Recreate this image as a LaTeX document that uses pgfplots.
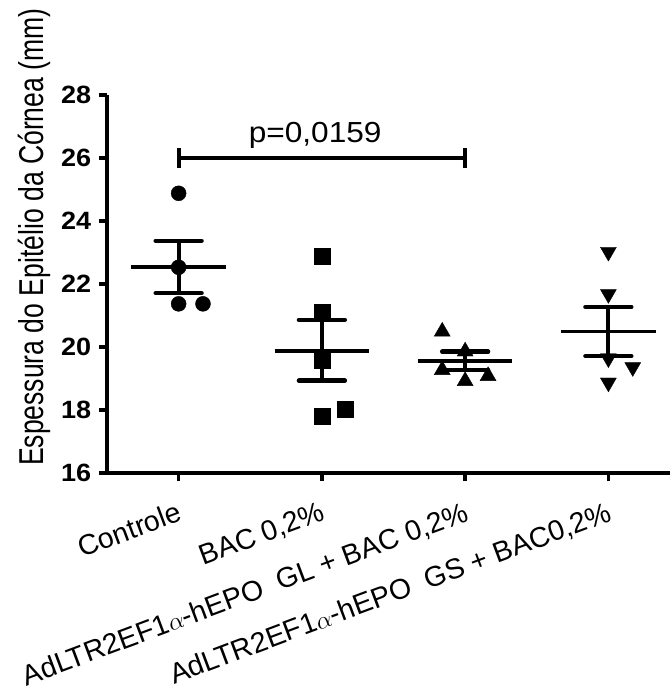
\documentclass[border=0pt]{standalone}
\usepackage{fontspec}
\setmainfont{Liberation Sans}
\usepackage{graphicx}
\usepackage{pgfplots}
\pgfplotsset{compat=1.18}
\usetikzlibrary{calc}

\begin{document}
\begin{tikzpicture}[font=\fontsize{26.5bp}{31bp}\selectfont]
\begin{axis}[
  name=ax,
  scale only axis,
  width=563bp, height=378bp,
  xmin=0.5, xmax=4.43,
  ymin=16, ymax=28,
  axis x line=bottom, axis y line=left,
  axis line style={line width=3.5bp, -},
  ytick={16,18,...,28},
  xtick={1,2,3,4},
  xticklabels={Controle, {BAC 0,2\%},
    {AdLTR2EF1$\alpha$-hEPO~ GL + BAC 0,2\%},
    {AdLTR2EF1$\alpha$-hEPO~ GS + BAC0,2\%}},
  x tick label style={font=\fontsize{28.5bp}{33bp}\selectfont,
    xshift=-1bp, yshift=-17bp, rotate=20.5,
    anchor=north east, inner sep=2bp},
  y tick label style={font=\fontsize{25bp}{30bp}\selectfont\bfseries,
    xshift=-5.5bp, xscale=1.08, inner sep=2bp,
    /pgf/number format/assume math mode=true},
  tick align=outside,
  major tick length=8bp,
  tick style={line width=3.5bp, black},
  ylabel={\scalebox{0.77}[1]{Espessura do Epitélio da Córnea (mm)}},
  ylabel style={font=\fontsize{34.5bp}{40bp}\selectfont,
    at={(ticklabel cs:0.624,8bp)}, anchor=south, inner sep=0pt},
  clip=false,
]
% individual values
\addplot[only marks, mark=*, mark size=7.5bp, black] coordinates {
  (1,24.88) (1,22.53) (1,21.37) (1.17,21.37)};
\addplot[only marks, mark=square*, mark size=8bp, black] coordinates {
  (2,22.89) (2,21.10) (2,19.59) (2,17.81) (2.16,18.02)};
\addplot[only marks, mark=triangle*, mark size=9.2bp, black] coordinates {
  (2.84,20.49) (3,19.86) (2.84,19.27) (3,18.92) (3.16,19.08)};
\addplot[only marks, mark=triangle*, mark size=9.2bp, mark options={rotate=180}, black] coordinates {
  (4,23.02) (4,21.68) (4,19.64) (4.17,19.36) (4,18.87)};

% means
\addplot[black, line width=3.5bp] coordinates {(0.67,22.54) (1.33,22.54)};
\addplot[black, line width=3.5bp] coordinates {(1.67,19.88) (2.33,19.88)};
\addplot[black, line width=3.5bp] coordinates {(2.67,19.56) (3.33,19.56)};
\addplot[black, line width=3.5bp] coordinates {(3.67,20.50) (4.33,20.50)};

% SEM
\addplot[black, line width=4bp] coordinates {(1,21.71) (1,23.37)};
\addplot[black, line width=4.5bp, line cap=round] coordinates {(0.84,23.37) (1.16,23.37)};
\addplot[black, line width=4.5bp, line cap=round] coordinates {(0.84,21.71) (1.16,21.71)};
\addplot[black, line width=4bp] coordinates {(2,18.93) (2,20.86)};
\addplot[black, line width=4.5bp, line cap=round] coordinates {(1.84,20.86) (2.16,20.86)};
\addplot[black, line width=4.5bp, line cap=round] coordinates {(1.84,18.93) (2.16,18.93)};
\addplot[black, line width=4bp] coordinates {(3,19.27) (3,19.85)};
\addplot[black, line width=4.5bp, line cap=round] coordinates {(2.84,19.85) (3.16,19.85)};
\addplot[black, line width=4.5bp, line cap=round] coordinates {(2.84,19.27) (3.16,19.27)};
\addplot[black, line width=4bp] coordinates {(4,19.71) (4,21.27)};
\addplot[black, line width=4.5bp, line cap=round] coordinates {(3.84,21.27) (4.16,21.27)};
\addplot[black, line width=4.5bp, line cap=round] coordinates {(3.84,19.71) (4.16,19.71)};

% significance bracket
\addplot[black, line width=4bp] coordinates {(1,25.68) (1,26.32)};
\addplot[black, line width=4bp] coordinates {(1,26) (3,26)};
\addplot[black, line width=4bp] coordinates {(3,25.68) (3,26.32)};
\node[anchor=base, xscale=1.09, font=\fontsize{29bp}{34bp}\selectfont]
  at (axis cs:1.953,26.49) {p=0,0159};
\end{axis}
\pgfresetboundingbox
\path ($(ax.south west)+(-107bp,-215bp)$) rectangle ($(ax.north east)+(0bp,95bp)$);
\end{tikzpicture}
\end{document}
